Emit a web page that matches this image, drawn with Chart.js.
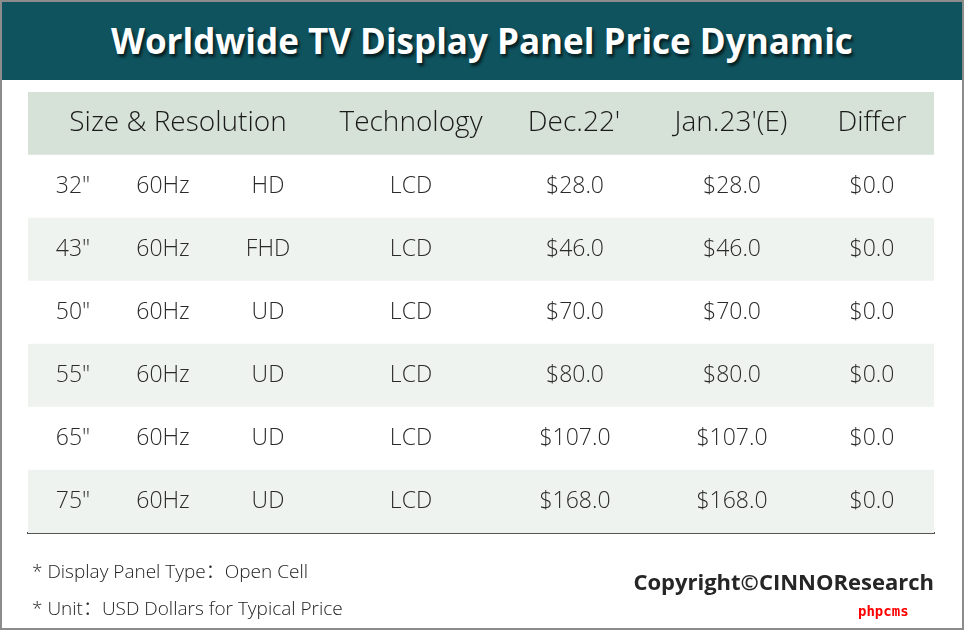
<!DOCTYPE html>
<html>
<head>
<meta charset="utf-8">
<script src="https://cdn.jsdelivr.net/npm/chart.js@4.4.0/dist/chart.umd.min.js"></script>
<style>
  html, body { margin: 0; padding: 0; background: #fff; }
  #wrap { position: relative; width: 964px; height: 630px; overflow: hidden; }
  #frame { position: absolute; left: 0; top: 0; width: 964px; height: 630px; box-sizing: border-box; border: 2px solid #8c8c8c; pointer-events: none; }
  #title { position: absolute; left: 0; top: 0; width: 964px; height: 80px; background: #0f535e;
    color: #fff; font-family: "Open Sans", sans-serif; font-weight: 700; font-size: 35px;
    text-align: center; line-height: 82px; text-shadow: 2px 3px 3px rgba(0,0,0,0.65); }
  .note { position: absolute; left: 32px; font-family: "Open Sans", "Noto Sans CJK SC", sans-serif; font-weight: 300; font-size: 19px; color: #222; white-space: nowrap; }
  #copy { position: absolute; right: 30px; top: 566px; font-family: "Open Sans", sans-serif; font-weight: 700; font-size: 22px; color: #262626; }
  #php { position: absolute; left: 858px; top: 603px; font-family: "DejaVu Sans Mono", monospace; font-weight: 700; font-size: 14px; color: #f00; }
  canvas { position: absolute; left: 0; top: 0; }
</style>
</head>
<body>
<div id="wrap">
  <canvas id="myChart" width="964" height="630"></canvas>
  <div id="title">Worldwide TV Display Panel Price Dynamic</div>
  <div class="note" style="top:556px">* Display Panel Type：Open Cell</div>
  <div class="note" style="top:593px">* Unit：USD Dollars for Typical Price</div>
  <div id="copy">Copyright©CINNOResearch</div>
  <div id="php">phpcms</div>
  <div id="frame"></div>
</div>
<script>
// table data
var headers = ["Size & Resolution", "Technology", "Dec.22'", "Jan.23'(E)", "Differ"];
var sizes = ['32"', '43"', '50"', '55"', '65"', '75"'];
var refresh = ["60Hz", "60Hz", "60Hz", "60Hz", "60Hz", "60Hz"];
var resolution = ["HD", "FHD", "UD", "UD", "UD", "UD"];
var technology = ["LCD", "LCD", "LCD", "LCD", "LCD", "LCD"];
var dec22 = [28, 46, 70, 80, 107, 168];
var jan23 = [28, 46, 70, 80, 107, 168];
var differ = [0, 0, 0, 0, 0, 0];

// layout: x scale runs across the table width in px units
var xMin = 28, xMax = 934;
var headerPos = [178, 411, 574, 731, 872];
var colPos = [73, 163, 268, 411, 575, 732, 872];
var rowColors = ["#d6e1d8", "#ffffff", "#eef3ef", "#ffffff", "#eef3ef", "#ffffff", "#eef3ef"];

var rowLabels = ["header"].concat(sizes);

function money(v) { return "$" + v.toFixed(1); }

var tableText = {
  id: "tableText",
  afterDatasetsDraw: function(chart) {
    var ctx = chart.ctx;
    var xs = chart.scales.x, ys = chart.scales.y;
    ctx.save();
    ctx.textAlign = "center";
    ctx.textBaseline = "middle";
    ctx.fillStyle = "#1a1a1a";
    ctx.font = "300 28px 'Open Sans'";
    var hy = ys.getPixelForValue(0);
    for (var h = 0; h < headers.length; h++) {
      ctx.fillText(headers[h], xs.getPixelForValue(headerPos[h]), hy);
    }
    ctx.font = "300 23px 'Open Sans'";
    ctx.fillStyle = "#2a2a2a";
    for (var i = 0; i < sizes.length; i++) {
      var y = ys.getPixelForValue(i + 1);
      var cells = [sizes[i], refresh[i], resolution[i], technology[i], money(dec22[i]), money(jan23[i]), money(differ[i])];
      for (var c = 0; c < cells.length; c++) {
        ctx.fillText(cells[c], xs.getPixelForValue(colPos[c]), y);
      }
    }
    ctx.restore();
  }
};

new Chart("myChart", {
  type: "bar",
  data: {
    labels: rowLabels,
    datasets: [{
      data: rowLabels.map(function() { return [xMin, xMax]; }),
      backgroundColor: rowColors,
      borderWidth: 0,
      barPercentage: 1,
      categoryPercentage: 1
    }]
  },
  options: {
    indexAxis: "y",
    responsive: false,
    animation: false,
    layout: { padding: { left: 28, right: 30, top: 92, bottom: 89 } },
    plugins: { legend: { display: false }, tooltip: { enabled: false } },
    scales: {
      x: {
        type: "linear", min: xMin, max: xMax,
        grid: { display: false },
        ticks: { display: false },
        border: { display: true, color: "#555", width: 2 }
      },
      y: { display: false }
    }
  },
  plugins: [tableText]
});
</script>
</body>
</html>
